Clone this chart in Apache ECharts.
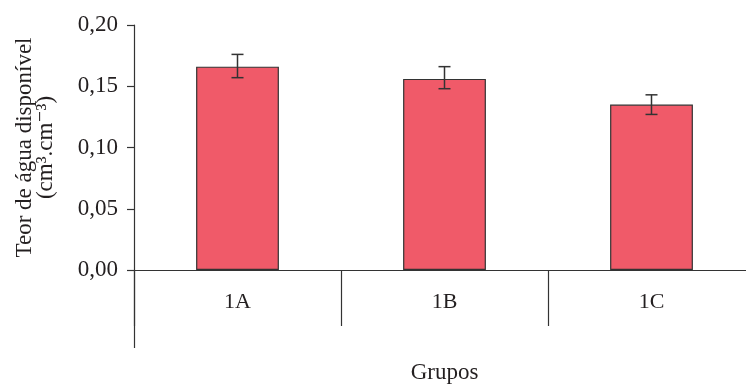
<!DOCTYPE html>
<html>
<head>
<meta charset="utf-8">
<script src="https://cdn.jsdelivr.net/npm/echarts@6/dist/echarts.min.js"></script>
<style>html,body{margin:0;padding:0;background:#fff}#c{width:746px;height:385px}</style>
</head>
<body>
<div id="c"></div>
<script>
const categories = ['1A', '1B', '1C'];
const values = [0.166, 0.156, 0.135];
const errLow = [0.157, 0.148, 0.127];
const errHigh = [0.176, 0.166, 0.143];
const yTicks = [0, 0.05, 0.10, 0.15, 0.20];

const FONT = '"Liberation Serif", "DejaVu Serif", serif';
const AX = '#333333';
const TXT = '#231f20';

const chart = echarts.init(document.getElementById('c'), null, {renderer: 'canvas'});
chart.setOption({
  animation: false,
  backgroundColor: '#ffffff',
  grid: {left: 134, top: 25, bottom: 115, width: 621, containLabel: false, outerBoundsMode: 'none'},
  xAxis: [{
    type: 'category',
    data: categories,
    position: 'bottom',
    axisLine: {show: true, onZero: false, lineStyle: {color: AX, width: 1.2}},
    axisTick: {show: true, length: 56, inside: false, lineStyle: {color: AX, width: 1.2}},
    axisLabel: {color: TXT, fontFamily: FONT, fontSize: 22, margin: 21},
    name: 'Grupos',
    nameLocation: 'middle',
    nameGap: 91,
    nameTextStyle: {color: TXT, fontFamily: FONT, fontSize: 23}
  }, {
    type: 'category',
    data: categories,
    position: 'bottom',
    axisLine: {show: false},
    axisTick: {show: true, length: 78, interval: function (i) { return i === 0; }, lineStyle: {color: AX, width: 1.2}},
    axisLabel: {show: false}
  }],
  yAxis: {
    type: 'value',
    min: yTicks[0],
    max: yTicks[yTicks.length - 1],
    interval: 0.05,
    splitLine: {show: false},
    axisLine: {show: true, lineStyle: {color: AX, width: 1.2}},
    axisTick: {show: true, length: 7, lineStyle: {color: AX, width: 1.2}},
    axisLabel: {
      color: TXT, fontFamily: FONT, fontSize: 23, margin: 16,
      formatter: v => v.toFixed(2).replace('.', ',')
    },
    name: 'Teor de água disponível\n(cm³.cm⁻³)',
    nameLocation: 'middle',
    nameGap: 78,
    nameTextStyle: {color: TXT, fontFamily: FONT, fontSize: 23, lineHeight: 21, align: 'center'}
  },
  series: [{
    type: 'bar',
    data: values,
    barWidth: '40%',
    itemStyle: {color: '#f05a69', borderColor: '#333333', borderWidth: 1.2}
  }, {
    type: 'custom',
    data: categories.map((c, i) => [i, errLow[i], errHigh[i]]),
    z: 10,
    renderItem: function (params, api) {
      const i = api.value(0);
      const lo = api.coord([i, api.value(1)]);
      const hi = api.coord([i, api.value(2)]);
      const hw = 6;
      const st = {stroke: '#333333', lineWidth: 1.5};
      return {
        type: 'group',
        children: [
          {type: 'line', shape: {x1: hi[0], y1: hi[1], x2: lo[0], y2: lo[1]}, style: st},
          {type: 'line', shape: {x1: hi[0] - hw, y1: hi[1], x2: hi[0] + hw, y2: hi[1]}, style: st},
          {type: 'line', shape: {x1: lo[0] - hw, y1: lo[1], x2: lo[0] + hw, y2: lo[1]}, style: st}
        ]
      };
    }
  }]
});
</script>
</body>
</html>
